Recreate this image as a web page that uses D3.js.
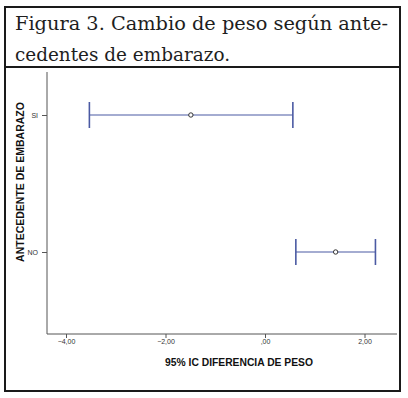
<!DOCTYPE html>
<html>
<head>
<meta charset="utf-8">
<script src="https://cdn.jsdelivr.net/npm/d3@7"></script>
<style>
  body { margin: 0; background: #fff; }
</style>
</head>
<body>
<div id="fig"></div>
<script>
// data
var groups = ["SI", "NO"];
var lower = [-3.53, 0.62];
var mean = [-1.49, 1.42];
var upper = [0.56, 2.22];
var xTicks = [-4, -2, 0, 2];
var titleLines = ["Figura 3. Cambio de peso según ante-", "cedentes de embarazo."];

var svg = d3.select("#fig")
    .append("svg")
    .attr("width", 408)
    .attr("height", 398);

// outer frame + title divider
svg.append("rect")
    .attr("x", 5).attr("y", 7)
    .attr("width", 395).attr("height", 384)
    .style("fill", "none")
    .style("stroke", "#1a1a1a")
    .style("stroke-width", 2);
svg.append("line")
    .attr("x1", 5).attr("x2", 400)
    .attr("y1", 67).attr("y2", 67)
    .style("stroke", "#1a1a1a")
    .style("stroke-width", 2);

// title
svg.selectAll(".title")
    .data(titleLines)
    .enter().append("text")
    .attr("class", "title")
    .attr("x", 15)
    .attr("y", function(d, i) { return 30 + i * 31; })
    .attr("textLength", function(d, i) { return i === 0 ? 373 : 215; })
    .attr("lengthAdjust", "spacingAndGlyphs")
    .style("font-family", "DejaVu Serif")
    .style("font-size", "19px")
    .style("fill", "#1e1e1e")
    .text(function(d) { return d; });

// scales
var xScale = d3.scaleLinear().domain([-4, 2]).range([66, 364.5]);
var yScale = d3.scalePoint().domain(groups).range([115, 252]);

var xAxis = d3.axisBottom(xScale)
    .tickValues(xTicks)
    .tickSize(4)
    .tickSizeOuter(0)
    .tickFormat(function(d) { return d === 0 ? ",00" : d3.format(".2f")(d).replace(".", ","); });
var yAxis = d3.axisLeft(yScale).tickSize(5).tickSizeOuter(0);

var gx = svg.append("g")
    .attr("transform", "translate(0,334)")
    .call(xAxis);
gx.select(".domain").attr("d", "M47,0H397");

var gy = svg.append("g")
    .attr("transform", "translate(47,0)")
    .call(yAxis);
gy.select(".domain").attr("d", "M0,72V334");

svg.selectAll(".domain, .tick line").style("stroke", "#555");
svg.selectAll(".tick text")
    .style("font-family", "Arial, Liberation Sans, sans-serif")
    .style("font-size", "7px")
    .style("fill", "#333");
gx.selectAll(".tick text").attr("dy", "0.9em").attr("y", 4);
gy.selectAll(".tick text").attr("x", -9);

// axis titles
svg.append("text")
    .attr("x", 239).attr("y", 366)
    .attr("text-anchor", "middle")
    .style("font-family", "Arial, Liberation Sans, sans-serif")
    .style("font-size", "10.3px")
    .style("font-weight", "bold")
    .style("fill", "#111")
    .text("95% IC DIFERENCIA DE PESO");
svg.append("text")
    .attr("transform", "translate(24,182) rotate(-90)")
    .attr("text-anchor", "middle")
    .style("font-family", "Arial, Liberation Sans, sans-serif")
    .style("font-size", "10.5px")
    .style("font-weight", "bold")
    .style("fill", "#111")
    .text("ANTECEDENTE DE EMBARAZO");

// error bars
var rows = groups.map(function(g, i) {
    return {g: g, lo: lower[i], m: mean[i], hi: upper[i]};
});
var barColor = "#4b5aa3";
var bars = svg.selectAll(".ci")
    .data(rows)
    .enter().append("g")
    .attr("class", "ci");
bars.append("line")
    .attr("x1", function(d) { return xScale(d.lo); })
    .attr("x2", function(d) { return xScale(d.hi); })
    .attr("y1", function(d) { return yScale(d.g); })
    .attr("y2", function(d) { return yScale(d.g); })
    .style("stroke", barColor).style("stroke-width", 1.2);
["lo", "hi"].forEach(function(k) {
    bars.append("line")
        .attr("x1", function(d) { return xScale(d[k]); })
        .attr("x2", function(d) { return xScale(d[k]); })
        .attr("y1", function(d) { return yScale(d.g) - 13; })
        .attr("y2", function(d) { return yScale(d.g) + 13; })
        .style("stroke", barColor).style("stroke-width", 1.6);
});
bars.append("circle")
    .attr("cx", function(d) { return xScale(d.m); })
    .attr("cy", function(d) { return yScale(d.g); })
    .attr("r", 2.2)
    .style("fill", "#fff")
    .style("stroke", "#333")
    .style("stroke-width", 1);
</script>
</body>
</html>
